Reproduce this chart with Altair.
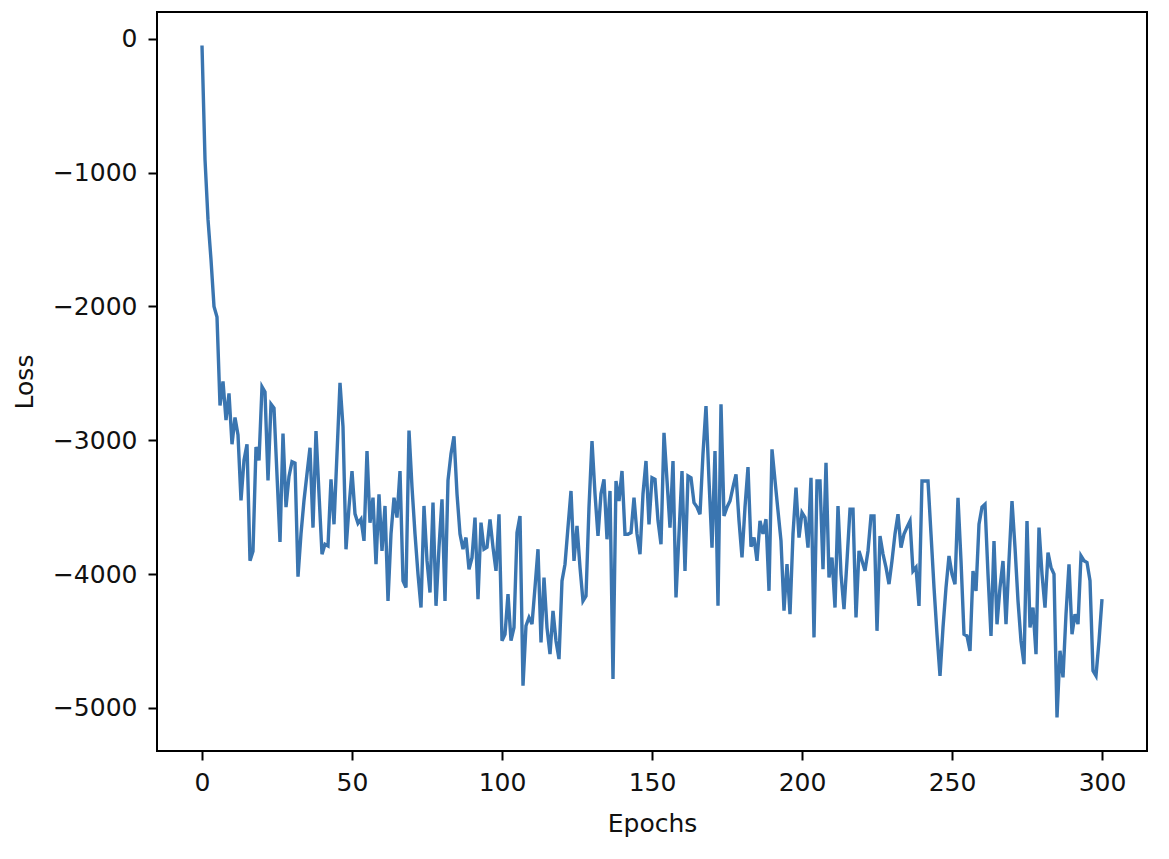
import altair as alt
import pandas as pd

epochs = list(range(301))
loss = [
    -50, -900, -1350, -1650, -2000, -2080, -2740, -2560, -2850, -2650,
    -3030, -2830, -2960, -3450, -3150, -3030, -3900, -3830, -3050, -3150,
    -2600, -2640, -3300, -2730, -2760, -3260, -3760, -2950, -3500, -3270,
    -3160, -3170, -4020, -3700, -3450, -3250, -3056, -3653, -2932, -3400,
    -3852, -3777, -3790, -3292, -3628, -3100, -2571, -2900, -3815, -3500,
    -3230, -3550, -3620, -3590, -3752, -3081, -3616, -3429, -3926, -3404,
    -3827, -3491, -4200, -3700, -3429, -3578, -3230, -4050, -4100, -2927,
    -3350, -3700, -4000, -4250, -3491, -3900, -4138, -3466, -4237, -3800,
    -3441, -4200, -3300, -3100, -2970, -3400, -3700, -3814, -3727, -3964,
    -3877, -3578, -4188, -3616, -3814, -3800, -3591, -3800, -3976, -3553,
    -4498, -4450, -4150, -4498, -4399, -3690, -3566, -4834, -4386, -4324,
    -4374, -4100, -3814, -4511, -4026, -4400, -4598, -4275, -4500, -4635,
    -4051, -3926, -3650, -3379, -3902, -3640, -3950, -4200, -4163, -3500,
    -3006, -3400, -3715, -3400, -3292, -3740, -3379, -4784, -3305, -3454,
    -3230, -3702, -3702, -3690, -3429, -3700, -3852, -3400, -3155, -3628,
    -3280, -3292, -3600, -3777, -2944, -3300, -3653, -3155, -4175, -3700,
    -3230, -3976, -3267, -3280, -3466, -3500, -3553, -3100, -2745, -3300,
    -3802, -3081, -4237, -2732, -3566, -3500, -3454, -3350, -3255, -3600,
    -3876, -3500, -3200, -3795, -3727, -3901, -3603, -3700, -3590, -4125,
    -3068, -3300, -3528, -3752, -4274, -3926, -4299, -3700, -3354, -3727,
    -3541, -3578, -3802, -3280, -4473, -3304, -3304, -3964, -3168, -4026,
    -3876, -4250, -3491, -4000, -4262, -3900, -3516, -3516, -4324, -3827,
    -3900, -3976, -3827, -3566, -3566, -4424, -3715, -3850, -3950, -4075,
    -3900, -3700, -3553, -3802, -3700, -3650, -3604, -3977, -3950, -4238,
    -3305, -3305, -3305, -3700, -4100, -4450, -4760, -4400, -4101, -3865,
    -4000, -4076, -3430, -3900, -4449, -4462, -4574, -3977, -4126, -3628,
    -3500, -3479, -4000, -4462, -3753, -4375, -4100, -3902, -4374, -3900,
    -3454, -3800, -4200, -4500, -4673, -3603, -4399, -4250, -4598, -3653,
    -4000, -4250, -3840, -3950, -4000, -5071, -4573, -4772, -4300, -3927,
    -4449, -4300, -4374, -3864, -3900, -3914, -4050, -4722, -4760, -4500,
    -4188,
]
x_ticks = [0, 50, 100, 150, 200, 250, 300]
y_ticks = [0, -1000, -2000, -3000, -4000, -5000]

df = pd.DataFrame({"Epochs": epochs, "Loss": loss})

font = "DejaVu Sans"
fs = 25

axis_common = dict(
    format="d", grid=False, tickSize=9, tickWidth=2, tickColor="black",
    domain=False, labelFontSize=fs, titleFontSize=fs, labelFont=font,
    titleFont=font, titleFontWeight="normal", labelColor="#111111",
    titleColor="#111111",
)

chart = (
    alt.Chart(df)
    .mark_line(color="#3a75b0", strokeWidth=3.4, clip=True)
    .encode(
        x=alt.X(
            "Epochs:Q",
            scale=alt.Scale(domain=[-15, 315], nice=False, zero=False),
            axis=alt.Axis(values=x_ticks, title="Epochs",
                          labelPadding=10, titlePadding=16, **axis_common),
        ),
        y=alt.Y(
            "Loss:Q",
            scale=alt.Scale(domain=[-5322, 200], nice=False, zero=False),
            axis=alt.Axis(values=y_ticks, title="Loss",
                          labelPadding=11, titlePadding=15, **axis_common),
        ),
    )
    .properties(
        width=990,
        height=739,
        autosize=alt.AutoSizeParams(type="none"),
        padding={"left": 149, "top": 4, "right": 10, "bottom": 100},
    )
    .configure(background="white")
    .configure_view(stroke="black", strokeWidth=2)
)

chart.save("out.html", embed_options={"renderer": "svg", "actions": False})
